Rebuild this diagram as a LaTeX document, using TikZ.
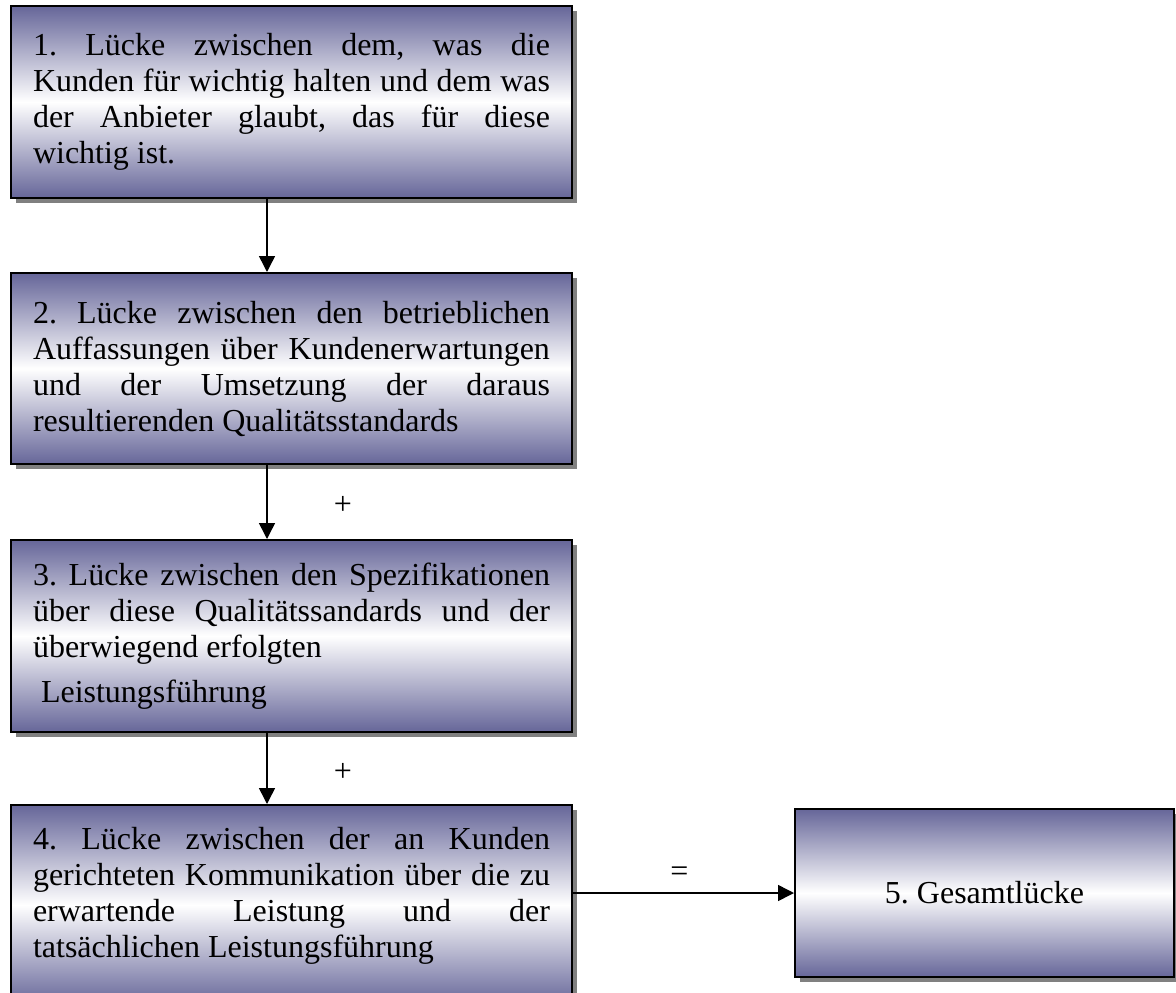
\documentclass[tikz,border=0pt]{standalone}
\usepackage{fontspec}
\setmainfont{Liberation Serif}
\usetikzlibrary{arrows.meta,shadows}
\definecolor{gapblue}{RGB}{102,102,153}
\setlength{\parindent}{0pt}
\hyphenpenalty=10000
\exhyphenpenalty=10000
\frenchspacing
\begin{document}
\begin{tikzpicture}[x=1pt,y=-1pt,
  gapbox/.style={draw=black, line width=2pt, rectangle, anchor=north west,
    top color=gapblue, bottom color=gapblue, middle color=white,
    drop shadow={shadow xshift=5pt, shadow yshift=-5pt, fill=black!50, opacity=1},
    inner xsep=22pt, inner ysep=0pt,
    font=\fontsize{32}{36}\selectfont},
  textbox/.style={gapbox, text width=517pt, align=justify, minimum width=561pt},
  link/.style={line width=1.5pt, -{Triangle[length=16pt,width=16pt]}},
  sign/.style={font=\fontsize{32}{36}\selectfont, inner sep=0pt}
]
\path[use as bounding box, clip] (0,0) rectangle (1176,993);

% the four partial gaps, stacked on the left
\node[textbox, minimum height=192pt] (b1) at (10,5)
  {1. Lücke zwischen dem, was die\linebreak
   Kunden für wichtig halten und dem was\linebreak
   der Anbieter glaubt, das für diese\linebreak
   wichtig ist.};
\node[textbox, minimum height=191pt] (b2) at (10,272)
  {2. Lücke zwischen den betrieblichen\linebreak
   Auffassungen über Kundenerwartungen\linebreak
   und der Umsetzung der daraus\linebreak
   resultierenden Qualitätsstandards};
\node[textbox, minimum height=192pt] (b3) at (10,539)
  {3. Lücke zwischen den Spezifikationen\linebreak
   über diese Qualitätssandards und der\linebreak
   überwiegend erfolgten\par\vspace{9pt}
   \hspace*{8pt}Leistungsführung};
% the lowest box runs past the page edge; the trailing skip lifts its text
\node[textbox, minimum height=200pt] (b4) at (10,804)
  {4. Lücke zwischen der an Kunden\linebreak
   gerichteten Kommunikation über die zu\linebreak
   erwartende Leistung und der\linebreak
   tatsächlichen Leistungsführung\par\vskip18pt\hrule height0pt width0pt};

% the resulting total gap
\node[gapbox, minimum width=379pt, minimum height=168pt] (b5) at (794,808)
  {5. Gesamtlücke};

% connectors
\draw[link] ([xshift=-24.5pt]b1.south) -- ([xshift=-24.5pt]b2.north);
\draw[link] ([xshift=-24.5pt]b2.south) -- node[sign, pos=0.55, xshift=76pt] {+} ([xshift=-24.5pt]b3.north);
\draw[link] ([xshift=-24.5pt]b3.south) -- node[sign, pos=0.55, xshift=76pt] {+} ([xshift=-24.5pt]b4.north);
\draw[link] (b4.east |- b5.west) -- node[sign, midway, yshift=19pt, xshift=-4pt] {=} (b5.west);
\end{tikzpicture}
\end{document}
